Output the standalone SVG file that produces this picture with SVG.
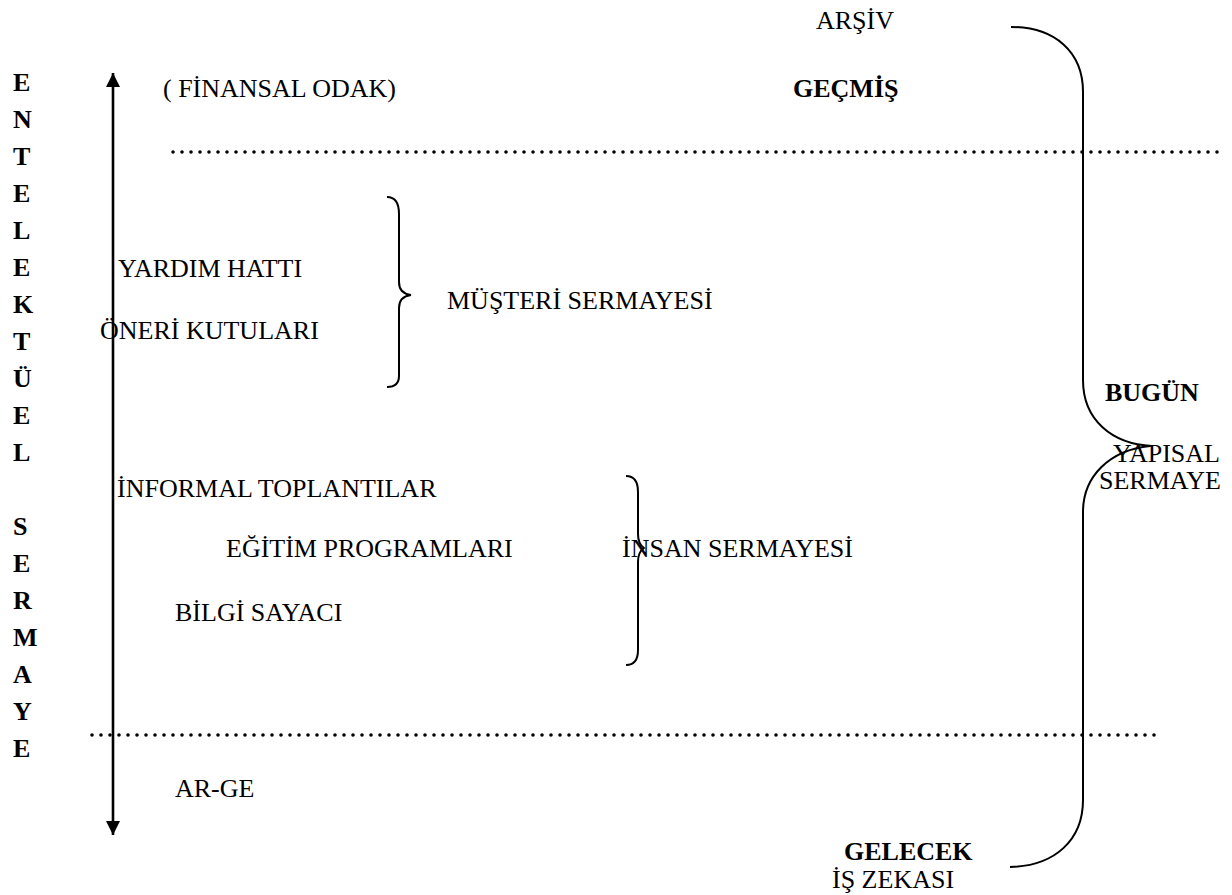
<svg xmlns="http://www.w3.org/2000/svg" width="1232" height="895" viewBox="0 0 1232 895">
<style>
text{font-family:"Liberation Serif","Times New Roman",serif;font-size:26px;fill:#000}
.b{font-weight:bold}
.v{font-weight:bold;font-size:26px}
.ln{fill:none;stroke:#000;stroke-width:2}
.arr{fill:none;stroke:#000;stroke-width:2.6}
.dot{fill:none;stroke:#000;stroke-width:3.6;stroke-linecap:round;stroke-dasharray:0 9}
</style>
<defs>
<marker id="ah" viewBox="0 0 10 10" refX="10" refY="5" markerWidth="18" markerHeight="14" orient="auto-start-reverse" markerUnits="userSpaceOnUse">
<path d="M0,0 L10,5 L0,10 z" fill="#000"/>
</marker>
</defs>
<rect width="1232" height="895" fill="#fff"/>
<g id="vertical-label">
<text class="v" x="13" y="91">E</text>
<text class="v" x="13" y="128">N</text>
<text class="v" x="13" y="165">T</text>
<text class="v" x="13" y="202">E</text>
<text class="v" x="13" y="239">L</text>
<text class="v" x="13" y="276">E</text>
<text class="v" x="13" y="313">K</text>
<text class="v" x="13" y="350">T</text>
<text class="v" x="13" y="387">Ü</text>
<text class="v" x="13" y="424">E</text>
<text class="v" x="13" y="461">L</text>
<text class="v" x="13" y="535">S</text>
<text class="v" x="13" y="572">E</text>
<text class="v" x="13" y="609">R</text>
<text class="v" x="13" y="646">M</text>
<text class="v" x="13" y="683">A</text>
<text class="v" x="13" y="720">Y</text>
<text class="v" x="13" y="757">E</text>
</g>
<g id="connectors">
<line class="arr" x1="113" y1="73" x2="113" y2="835" marker-start="url(#ah)" marker-end="url(#ah)"/>
<line class="dot" x1="173" y1="152" x2="1222" y2="152"/>
<line class="dot" x1="92" y1="735" x2="1155" y2="735"/>
<path class="ln" d="M387,197 C396,197 399,204 399,214 L399,282 C399,290 403,294 411,295 C403,296 399,300 399,308 L399,376 C399,384 395,387 387,387"/>
<path class="ln" d="M626,476 C635,476 638,482 638,492 L638,534 C638,542 641,546 644,548 C641,550 638,554 638,562 L638,650 C638,659 635,665 626,665"/>
<path class="ln" d="M1011,27 C1055,27 1083,52 1083,92 L1083,380 C1083,420 1112,444 1152,446"/>
<path class="ln" d="M1150,446 C1110,450 1083,476 1083,512 L1083,800 C1083,840 1055,866 1010,867"/>
</g>
<g id="archive"><text x="816" y="29">ARŞİV</text></g>
<g id="financial"><text x="163" y="97">( FİNANSAL ODAK)</text></g>
<g id="past"><text class="b" x="793" y="97">GEÇMİŞ</text></g>
<g id="helpline"><text x="118" y="277">YARDIM HATTI</text></g>
<g id="suggestion"><text x="100" y="339">ÖNERİ KUTULARI</text></g>
<g id="customer"><text x="447" y="309">MÜŞTERİ SERMAYESİ</text></g>
<g id="today"><text class="b" x="1105" y="401">BUGÜN</text></g>
<g id="structural"><text x="1113" y="462">YAPISAL</text><text x="1099" y="489">SERMAYE</text></g>
<g id="informal"><text x="117" y="497">İNFORMAL TOPLANTILAR</text></g>
<g id="training"><text x="226" y="557">EĞİTİM PROGRAMLARI</text></g>
<g id="human"><text x="622" y="557">İNSAN SERMAYESİ</text></g>
<g id="counter"><text x="175" y="621">BİLGİ SAYACI</text></g>
<g id="rd"><text x="175" y="797">AR-GE</text></g>
<g id="future"><text class="b" x="844" y="860">GELECEK</text></g>
<g id="bi"><text x="832" y="888">İŞ ZEKASI</text></g>
</svg>
